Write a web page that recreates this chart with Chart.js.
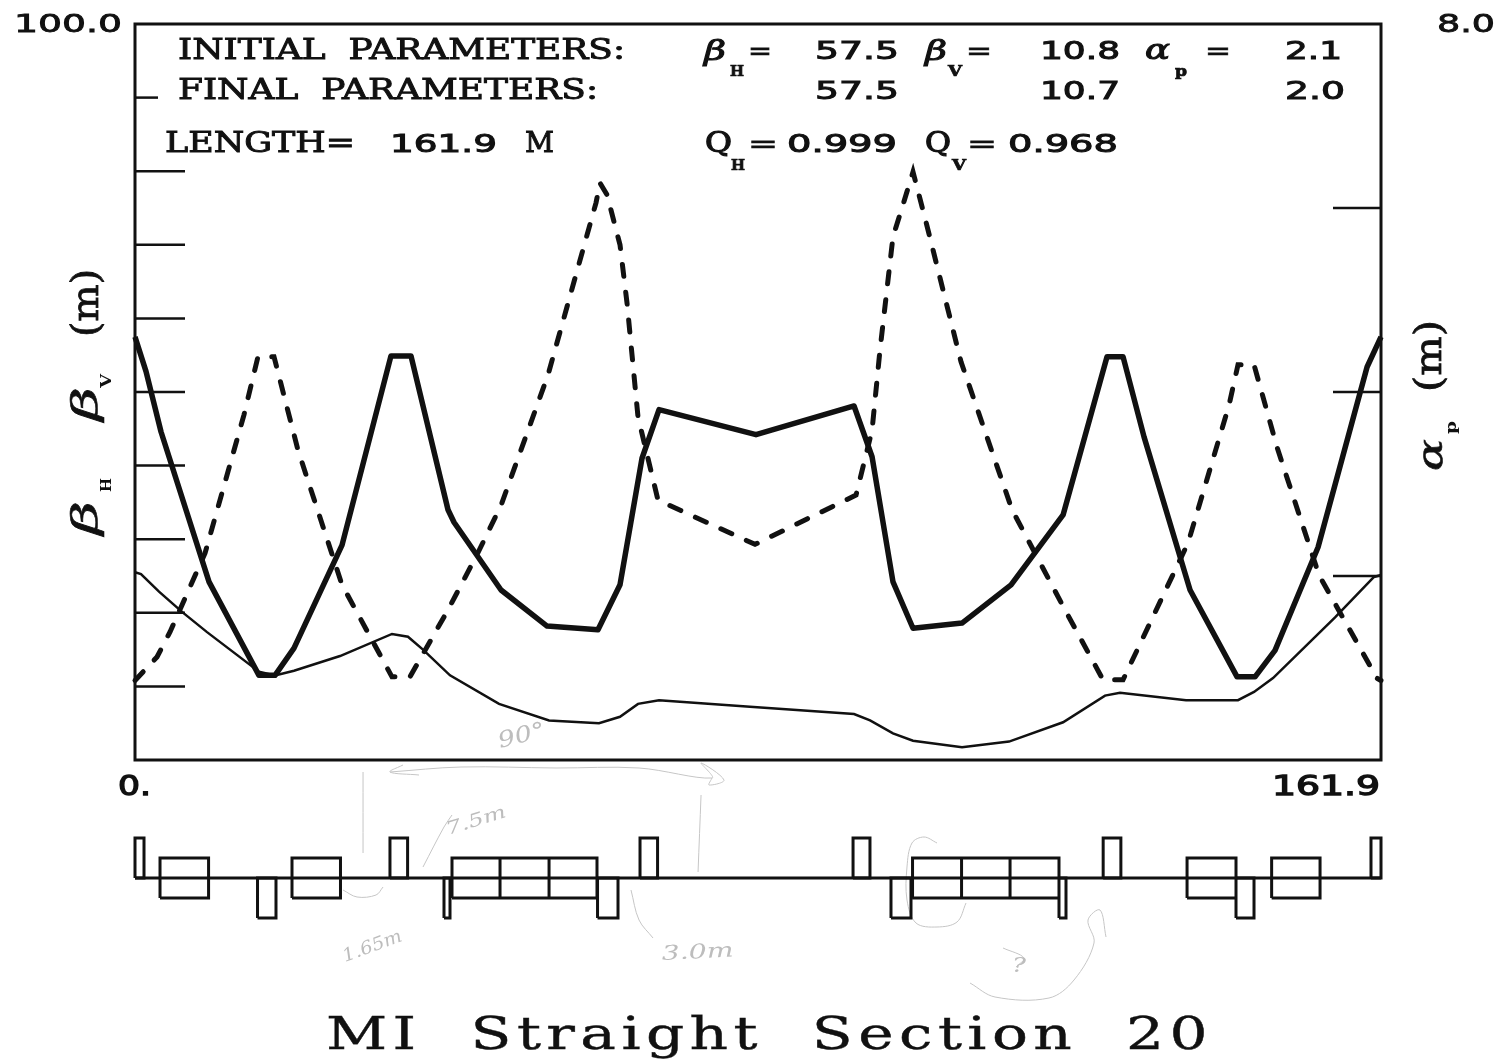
<!DOCTYPE html>
<html>
<head>
<meta charset="utf-8">
<script src="https://cdn.jsdelivr.net/npm/chart.js@4/dist/chart.umd.min.js"></script>
<style>
html,body{margin:0;padding:0;background:#fff;}
canvas{position:absolute;left:0;top:0;}
#lat{pointer-events:none;}
</style>
</head>
<body>
<canvas id="main" width="1500" height="1060"></canvas>
<canvas id="lat" width="1500" height="1060"></canvas>
<script>
// ---- optics (s in metres) ----
const sBetaH = [0,1.43,3.38,9.62,16.11,18.19,20.66,26.90,33.26,35.86,40.67,41.45,47.56,53.54,60.16,63.02,65.88,68.09,80.69,93.43,95.77,98.49,101.09,107.46,113.83,120.59,126.30,128.38,131.11,137.09,143.20,145.53,148.13,153.72,160.09,161.9];
const betaH = [57.5,52.8,44.6,24.2,11.5,11.5,15.2,29.2,54.9,54.9,34.0,32.3,23.1,18.2,17.7,23.8,41.0,47.6,44.2,48.1,41.2,24.2,17.9,18.6,23.8,33.3,54.8,54.8,43.9,23.1,11.3,11.3,14.9,28.9,53.4,57.5];
const sBetaV = [0,2.86,4.55,9.10,14.16,15.98,18.06,21.18,26.90,33.39,35.73,40.67,44.44,47.56,53.66,59.90,60.42,61.33,63.02,63.93,65.36,67.96,80.56,93.69,95.77,96.80,98.49,99.66,101.09,102.78,107.33,113.96,120.84,125.78,128.38,136.83,142.15,143.32,145.40,148.39,153.85,161.39,161.9];
const betaV = [10.8,14.0,17.4,28.1,46.9,54.8,54.8,42.1,23.8,11.3,11.3,20.4,27.9,34.6,52.3,75.7,78.4,76.8,70.0,62.1,46.6,35.3,29.3,36.0,44.8,55.7,71.1,75.0,79.9,73.1,54.1,34.0,20.4,10.9,10.9,29.5,48.2,53.7,53.7,42.5,25.1,11.1,10.8];
const sAlpha = [0,0.78,3.12,6.11,9.36,16.11,18.19,20.66,26.64,33.39,35.47,37.42,40.93,47.30,53.80,60.29,63.02,65.36,68.09,79.91,93.43,95.51,98.49,101.09,107.46,113.57,120.59,126.04,127.99,136.57,143.32,145.40,147.87,155.93,160.99,161.9];
const alphaP = [2.04,2.02,1.83,1.61,1.39,0.96,0.92,0.97,1.13,1.37,1.34,1.20,0.92,0.61,0.43,0.40,0.47,0.61,0.65,0.58,0.50,0.43,0.29,0.21,0.14,0.20,0.41,0.70,0.73,0.65,0.65,0.74,0.89,1.55,1.99,2.01];

// ---- lattice: [start, end] in metres ----
const bendsUp = [[0,1.17],[33.13,35.42],[65.62,67.9],[93.3,95.5],[125.8,128.1],[160.6,161.9]];
const bendsDown = [[15.92,18.32],[40.15,40.93],[60.1,62.76],[98.23,100.83],[120.06,120.97],[143.06,145.4]];
const quads = [[3.25,9.56],[20.4,26.7],[41.19,47.43],[47.43,53.8],[53.8,60.03],[101.03,107.4],[107.4,113.7],[113.7,120.06],[136.7,143.06],[147.69,153.98]];

// ---- pencil marks on the print: [s, lattice units] ----
const penArrow = [[33.13,5.3],[42.36,5.55],[54.71,5.5],[65.49,5.5],[74.97,5.0],[73.55,5.75],[76.53,4.9],[74.59,4.65],[74.97,5.0]];
const penArrowHead = [[34.82,5.65],[33.13,5.3],[36.9,5.15]];
const penLeft = [[29.63,5.3],[29.63,1.25]];
const penRight = [[73.55,4.15],[73.16,0.3]];
const penLeader = [[37.42,0.55],[40.15,2.55],[41.19,3.15]];
const penBracket = [[27.03,-0.6],[28.85,-0.95],[31.32,-0.85],[32.23,-0.45]];
const penLeader2 = [[64.45,-0.6],[65.49,-2.1],[67.31,-3.0]];
const penCurve = [[104.21,1.75],[102.52,2.05],[100.96,1.75],[100.31,0.55],[100.31,-1.1],[101.48,-2.25],[104.21,-2.45],[106.81,-2.2],[107.98,-1.25]];
const penSwoop = [[108.5,-5.25],[111.75,-5.95],[118.76,-6.0],[122.01,-5.1],[124.61,-3.25],[123.83,-2.1],[125.39,-1.6],[126.17,-2.95]];
const penSmall = [[112.79,-3.5],[115.52,-4.0],[114.48,-4.45]];

// ---- texts ----
const leftTickLabel = '100.0', rightTickLabel = '8.0', xStartLabel = '0.', xEndLabel = '161.9';
const chartTitle = 'MI  Straight  Section  20';
const headerLeft = ['INITIAL  PARAMETERS:','FINAL  PARAMETERS:','LENGTH=','161.9','M'];

const INK = '#111';
const zip = (xs, ys) => xs.map((x, i) => ({x, y: ys[i]}));
const SERIF = '"DejaVu Serif"', SANS = '"DejaVu Sans"';

function label(ctx, str, x, base, w, font, rot, color, sw, ls) {
  ctx.save();
  ctx.font = font;
  if (ls) ctx.letterSpacing = ls;
  ctx.fillStyle = color || INK;
  ctx.strokeStyle = color || INK;
  ctx.textAlign = 'left';
  ctx.textBaseline = 'alphabetic';
  const natural = ctx.measureText(str).width;
  ctx.translate(x, base);
  if (rot) ctx.rotate(rot);
  ctx.scale(w / natural, 1);
  ctx.fillText(str, 0, 0);
  if (sw) { ctx.lineWidth = sw; ctx.strokeText(str, 0, 0); }
  ctx.restore();
}

const frame = {
  id: 'frame',
  afterDraw(chart) {
    const {ctx, chartArea: a, scales} = chart;
    ctx.save();
    ctx.strokeStyle = INK;
    ctx.lineWidth = 3;
    ctx.strokeRect(a.left, a.top, a.right - a.left, a.bottom - a.top);
    ctx.lineWidth = 2.5;
    scales.y.ticks.forEach(t => {
      if (t.value <= 0 || t.value >= 100) return;
      const p = scales.y.getPixelForValue(t.value), len = t.value === 90 ? 23 : 50;
      ctx.beginPath(); ctx.moveTo(a.left, p); ctx.lineTo(a.left + len, p); ctx.stroke();
    });
    scales.y2.ticks.forEach(t => {
      if (t.value <= 0 || t.value >= 8) return;
      const p = scales.y2.getPixelForValue(t.value);
      ctx.beginPath(); ctx.moveTo(a.right, p); ctx.lineTo(a.right - 48, p); ctx.stroke();
    });
    ctx.restore();

    const yTop = scales.y.getPixelForValue(100);
    const txt = (s, x, b, w, f, sw) => label(ctx, s, x, b, w, f, 0, INK, sw === undefined ? 0.7 : sw);
    txt(leftTickLabel, a.left - 121, yTop + 8, 108, '24px ' + SANS, 0.8);
    txt(rightTickLabel, a.right + 56, yTop + 8, 58, '24px ' + SANS, 0.8);
    const xBase = a.bottom + 35;
    txt(xStartLabel, scales.x.getPixelForValue(0) - 17, xBase, 33, '27px ' + SANS, 1.3);
    txt(xEndLabel, scales.x.getPixelForValue(161.9) - 109, xBase, 108, '27px ' + SANS, 1.3);

    const T = '28px ' + SERIF, D = '25px ' + SANS, G = 'italic 28px ' + SERIF, S = 'bold 14px ' + SERIF;
    txt(headerLeft[0], 178, 59, 447, T, 0.9);
    txt(headerLeft[1], 178, 99, 420, T, 0.9);
    txt(headerLeft[2], 165, 152, 190, T, 0.9);
    txt(headerLeft[3], 390, 152, 107, D, 1);
    txt(headerLeft[4], 525, 152, 29, T, 0.9);

    txt('β', 704, 60, 22, G, 1); txt('H', 730, 76, 14, S);
    txt('=', 748, 59, 24, D, 0.7);
    txt('57.5', 815, 59, 84, D, 1);
    txt('β', 925, 60, 22, G, 1); txt('V', 948, 76, 14, S);
    txt('=', 966, 59, 26, D, 0.7);
    txt('10.8', 1040, 59, 80, D, 1);
    txt('α', 1145, 59, 25, G, 1); txt('p', 1175, 76, 12, S);
    txt('=', 1205, 59, 26, D, 0.7);
    txt('2.1', 1285, 59, 57, D, 1);
    txt('57.5', 815, 99, 84, D, 1);
    txt('10.7', 1040, 99, 80, D, 1);
    txt('2.0', 1285, 99, 60, D, 1);

    txt('Q', 705, 152, 27, T, 1.2); txt('H', 731, 170, 14, S);
    txt('=', 748, 152, 30, D, 0.7);
    txt('0.999', 787, 152, 110, D, 1);
    txt('Q', 925, 152, 26, T, 1.2); txt('V', 952, 170, 14, S);
    txt('=', 967, 152, 30, D, 0.7);
    txt('0.968', 1008, 152, 110, D, 1);

    const up = -Math.PI / 2, AX = 'italic 36px ' + SERIF, PAR = '38px ' + SERIF, SB = 'bold 15px ' + SERIF;
    const vert = (s, x, b, w, f, sw) => label(ctx, s, x, b, w, f, up, INK, sw);
    vert('β', 97, 535, 34, AX, 0.6); vert('H', 111, 492, 14, SB, 0);
    vert('β', 97, 421, 34, AX, 0.6); vert('V', 111, 388, 14, SB, 0);
    vert('(m)', 98, 337, 68, PAR, 0.8);
    vert('α', 1442, 471, 32, AX, 0.6); vert('p', 1456, 434, 13, SB, 0);
    vert('(m)', 1441, 392, 72, PAR, 0.8);

    label(ctx, chartTitle, 326, 1049, 887, '44px ' + SERIF, 0, INK, 0.4, '4px');
  }
};

new Chart(document.getElementById('main'), {
  type: 'line',
  plugins: [frame],
  data: {
    datasets: [
      {data: zip(sBetaH, betaH), yAxisID: 'y', borderColor: INK, borderWidth: 5.5, pointRadius: 0, tension: 0, borderJoinStyle: 'round', clip: false},
      {data: zip(sBetaV, betaV), yAxisID: 'y', borderColor: INK, borderWidth: 5, borderDash: [12, 16], borderCapStyle: 'round', pointRadius: 0, tension: 0, clip: false},
      {data: zip(sAlpha, alphaP), yAxisID: 'y2', borderColor: INK, borderWidth: 2.5, pointRadius: 0, tension: 0, clip: false}
    ]
  },
  options: {
    responsive: false, animation: false, devicePixelRatio: 1,
    layout: {padding: {top: 24, left: 0, right: 0, bottom: 0}},
    plugins: {legend: {display: false}, tooltip: {enabled: false}, title: {display: false}},
    scales: {
      x: {type: 'linear', min: 0, max: 161.9, grid: {display: false}, border: {display: false},
          ticks: {display: false}, afterFit(s) { s.height = 300; }},
      y: {min: 0, max: 100, position: 'left', grid: {display: false}, border: {display: false},
          ticks: {display: false, stepSize: 10}, afterFit(s) { s.width = 135; }},
      y2: {min: 0, max: 8, position: 'right', grid: {display: false}, border: {display: false},
           ticks: {display: false, stepSize: 2}, afterFit(s) { s.width = 119; }}
    }
  }
});

// ---- lattice, drawn below the plot on the same s axis ----
function latticePath() {
  const pts = [];
  const all = [
    ...bendsUp.map(([a, b]) => [a, b, 0, 2]),
    ...bendsDown.map(([a, b]) => [a, b, -2, 0]),
    ...quads.map(([a, b]) => [a, b, -1, 1])
  ];
  all.forEach(([a, b, lo, hi]) => {
    pts.push({x: a, y: lo}, {x: a, y: hi}, {x: b, y: hi}, {x: b, y: lo}, {x: a, y: lo}, {x: a, y: null});
  });
  return pts;
}
const pen = (arr) => ({
  data: arr.map(([x, y]) => ({x, y})), borderColor: '#c6c6c6', borderWidth: 1,
  pointRadius: 0, tension: 0.35, clip: false
});
const penNotes = {
  id: 'penNotes',
  afterDraw(chart) {
    const {ctx} = chart, c = '#bdbdbd';
    label(ctx, '90°', 500, 748, 48, 'italic 22px "DejaVu Serif"', -0.25, c);
    label(ctx, '7.5m', 448, 835, 62, 'italic 18px "DejaVu Serif"', -0.3, c);
    label(ctx, '1.65m', 345, 962, 62, 'italic 18px "DejaVu Serif"', -0.35, c);
    label(ctx, '3.0m', 662, 960, 72, 'italic 20px "DejaVu Serif"', -0.05, c);
    label(ctx, '?', 1012, 972, 14, 'italic 20px "DejaVu Serif"', 0, c);
  }
};
new Chart(document.getElementById('lat'), {
  type: 'line',
  plugins: [penNotes],
  data: {
    datasets: [
      {data: [{x: 0, y: 0}, {x: 161.9, y: 0}], borderColor: INK, borderWidth: 2.8, pointRadius: 0, clip: false},
      {data: latticePath(), borderColor: INK, borderWidth: 3, pointRadius: 0, tension: 0, spanGaps: false, clip: false},
      ...[penArrow, penArrowHead, penLeft, penRight, penLeader, penBracket, penLeader2, penCurve, penSwoop, penSmall].map(pen)
    ]
  },
  options: {
    responsive: false, animation: false, devicePixelRatio: 1,
    layout: {padding: {top: 838, left: 135, right: 119, bottom: 142}},
    plugins: {legend: {display: false}, tooltip: {enabled: false}},
    scales: {
      x: {type: 'linear', min: 0, max: 161.9, display: false},
      y: {min: -2, max: 2, display: false}
    }
  }
});
</script>
</body>
</html>
